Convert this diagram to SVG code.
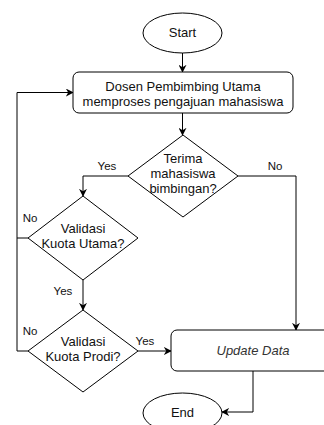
<svg xmlns="http://www.w3.org/2000/svg" width="324" height="425" viewBox="0 0 324 425">
<style>
.s{fill:#fff;stroke:#000;stroke-width:1}
.t{font-family:"Liberation Sans",Arial,sans-serif;font-size:13px;fill:#111;text-anchor:middle}
.l{font-family:"Liberation Sans",Arial,sans-serif;font-size:11.5px;fill:#111;text-anchor:middle}
.e{fill:none;stroke:#000;stroke-width:1}
</style>
<defs>
<marker id="a" viewBox="0 0 10 10" refX="9" refY="5" markerWidth="8" markerHeight="8" orient="auto" markerUnits="userSpaceOnUse">
<path d="M0,0 L10,5 L0,10 L3,5 Z" fill="#000"/>
</marker>
</defs>
<rect width="324" height="425" fill="#fff"/>
<g id="connectors">
<path class="e" d="M182.5,53 V72" marker-end="url(#a)"/>
<path class="e" d="M182.5,113 V135" marker-end="url(#a)"/>
<path class="e" d="M128,176 H83 V196" marker-end="url(#a)"/>
<path class="e" d="M238,176 H296 V330" marker-end="url(#a)"/>
<path class="e" d="M83,280 V310" marker-end="url(#a)"/>
<path class="e" d="M28,238 H17 V92.5 H73" marker-end="url(#a)"/>
<path class="e" d="M28,351 H17 V238"/>
<path class="e" d="M138,351 H171" marker-end="url(#a)"/>
<path class="e" d="M253,371 V412 H222" marker-end="url(#a)"/>
<text class="l" x="107" y="170">Yes</text>
<text class="l" x="275" y="170">No</text>
<text class="l" x="30" y="222">No</text>
<text class="l" x="63" y="295">Yes</text>
<text class="l" x="30" y="335">No</text>
<text class="l" x="145" y="345">Yes</text>
</g>
<g id="start">
<ellipse class="s" cx="182.5" cy="33" rx="39.5" ry="20"/>
<text class="t" x="182.5" y="37">Start</text>
</g>
<g id="process">
<rect class="s" x="73" y="72" width="220" height="41" rx="6"/>
<text class="t" x="183" y="91">Dosen Pembimbing Utama</text>
<text class="t" x="183" y="106">memproses pengajuan mahasiswa</text>
</g>
<g id="terima">
<path class="s" d="M183,135 L238,176 L183,217 L128,176 Z"/>
<text class="t" x="183" y="163">Terima</text>
<text class="t" x="183" y="178">mahasiswa</text>
<text class="t" x="183" y="193">bimbingan?</text>
</g>
<g id="kuota-utama">
<path class="s" d="M83,196 L138,238 L83,280 L28,238 Z"/>
<text class="t" x="83" y="233">Validasi</text>
<text class="t" x="83" y="248">Kuota Utama?</text>
</g>
<g id="kuota-prodi">
<path class="s" d="M83,310 L138,351 L83,392 L28,351 Z"/>
<text class="t" x="83" y="346">Validasi</text>
<text class="t" x="83" y="361">Kuota Prodi?</text>
</g>
<g id="update">
<rect class="s" x="171" y="330" width="164" height="41" rx="6"/>
<text class="t" x="253" y="355" font-style="italic" style="fill:#333">Update Data</text>
</g>
<g id="end">
<ellipse class="s" cx="182.5" cy="413" rx="39.5" ry="20"/>
<text class="t" x="182.5" y="417">End</text>
</g>
</svg>
